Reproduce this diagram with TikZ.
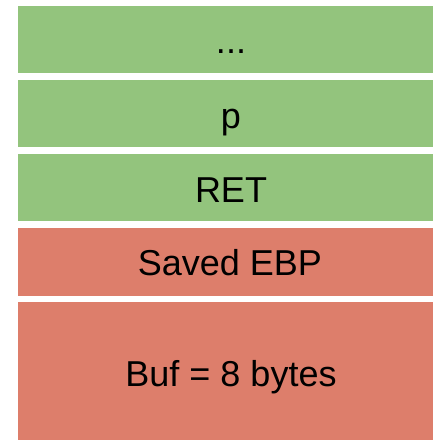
\documentclass[tikz,border=0pt]{standalone}
\usepackage{fontspec}
\setmainfont{Liberation Sans}
\definecolor{slotgreen}{RGB}{147,196,125}
\definecolor{slotred}{RGB}{221,126,107}
\begin{document}
\begin{tikzpicture}[x=1pt,y=-1pt,
  slot/.style={anchor=north west, inner sep=0pt, outer sep=0pt, draw=none, minimum width=415pt},
  greenslot/.style={slot, fill=slotgreen},
  redslot/.style={slot, fill=slotred},
  lbl/.style={anchor=base, inner sep=0pt, font=\fontsize{36}{43}\selectfont}]
\useasboundingbox (0,0) rectangle (433,440);
\fill[white] (0,0) rectangle (433,440);
\node[greenslot, minimum height=67pt] (s1) at (18,6) {};
\node[greenslot, minimum height=67pt] (s2) at (18,80) {};
\node[greenslot, minimum height=67pt] (s3) at (18,154) {};
\node[redslot, minimum height=68pt] (s4) at (18,228) {};
\node[redslot, minimum height=138pt] (s5) at (18,302) {};
\node[lbl] (t1) at (231,53) {...};
\node[lbl] (t2) at (231,128) {p};
\node[lbl] (t3) at (231,202) {RET};
\node[lbl] (t4) at (230,275) {Saved EBP};
\node[lbl] (t5) at (231,386) {Buf = 8 bytes};
\end{tikzpicture}
\end{document}
